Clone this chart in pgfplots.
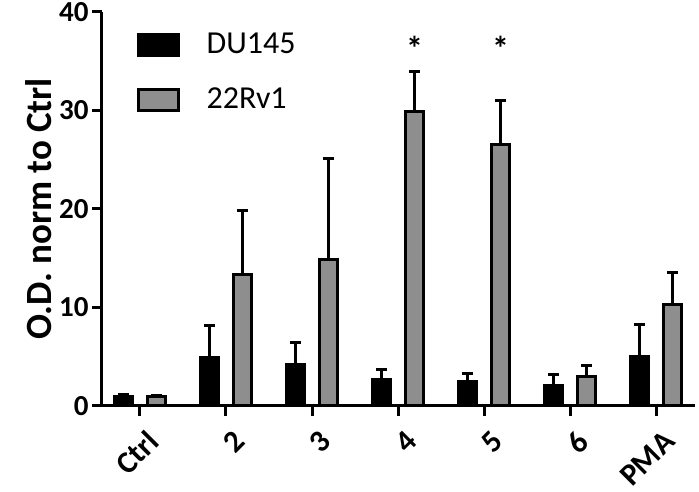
\documentclass[border=0pt]{standalone}
\usepackage{fontspec}
\setmainfont{Carlito}
\usepackage{pgfplots}
\pgfplotsset{compat=1.18}
\definecolor{bargray}{RGB}{142,142,142}
\begin{document}
\begin{tikzpicture}[x=1pt,y=1pt]
\useasboundingbox (0,0) rectangle (699,492);
\begin{axis}[
  at={(102pt,86.3pt)}, anchor=south west,
  scale only axis, width=593pt, height=393.7pt,
  ybar=15pt, bar width=18pt,
  xmin=-0.44, xmax=6.45, ymin=0, ymax=40,
  axis x line*=bottom, axis y line*=left,
  axis line style={line width=3pt, -},
  xtick={0,...,6}, xticklabels={Ctrl,2,3,4,5,6,PMA},
  ytick={0,10,20,30,40},
  tick style={line width=3pt, black},
  major tick length=10pt,
  tick align=outside,
  x tick label style={rotate=45, anchor=east, xshift=-2pt, yshift=-24pt,
    font=\fontsize{31}{31}\selectfont\bfseries},
  y tick label style={font=\fontsize{29}{29}\selectfont\bfseries},
  /pgf/number format/assume math mode=true,
  ylabel={O.D. norm to Ctrl},
  ylabel style={font=\fontsize{37}{37}\selectfont\bfseries},
  legend image code/.code={\draw[#1, line width=3pt] (0pt,-10.5pt) rectangle (40pt,10.5pt);},
  legend style={at={(0.058,0.952)}, anchor=north west, draw=none, fill=none, inner sep=0pt,
    row sep=27pt, font=\fontsize{32}{32}\selectfont,
    nodes={inner ysep=0pt, text height=22pt, text depth=6pt},
    /tikz/every odd column/.append style={column sep=25pt}},
  legend cell align=left,
]
\addplot[fill=black, draw=black, line width=3pt,
  error bars/.cd, y dir=plus, y explicit,
  error bar style={line width=3pt, black},
  error mark options={rotate=90, mark size=5.5pt, line width=3pt, black}]
  coordinates {(0,0.9) +- (0,0.2) (1,4.9) +- (0,3.2) (2,4.2) +- (0,2.2) (3,2.7) +- (0,1.0)
               (4,2.5) +- (0,0.8) (5,2.1) +- (0,1.1) (6,5.0) +- (0,3.3)};
\addplot[fill=bargray, draw=black, line width=3pt,
  error bars/.cd, y dir=plus, y explicit,
  error bar style={line width=3pt, black},
  error mark options={rotate=90, mark size=5.5pt, line width=3pt, black}]
  coordinates {(0,0.9) +- (0,0.15) (1,13.3) +- (0,6.5) (2,14.9) +- (0,10.2) (3,29.9) +- (0,4.1)
               (4,26.5) +- (0,4.5) (5,2.95) +- (0,1.15) (6,10.3) +- (0,3.2)};
\legend{DU145,22Rv1}
\node[font=\fontsize{34}{34}\selectfont\bfseries] at (axis cs:3,36.3) [xshift=16.5pt] {*};
\node[font=\fontsize{34}{34}\selectfont\bfseries] at (axis cs:4,36.3) [xshift=16.5pt] {*};
\end{axis}
\end{tikzpicture}
\end{document}
